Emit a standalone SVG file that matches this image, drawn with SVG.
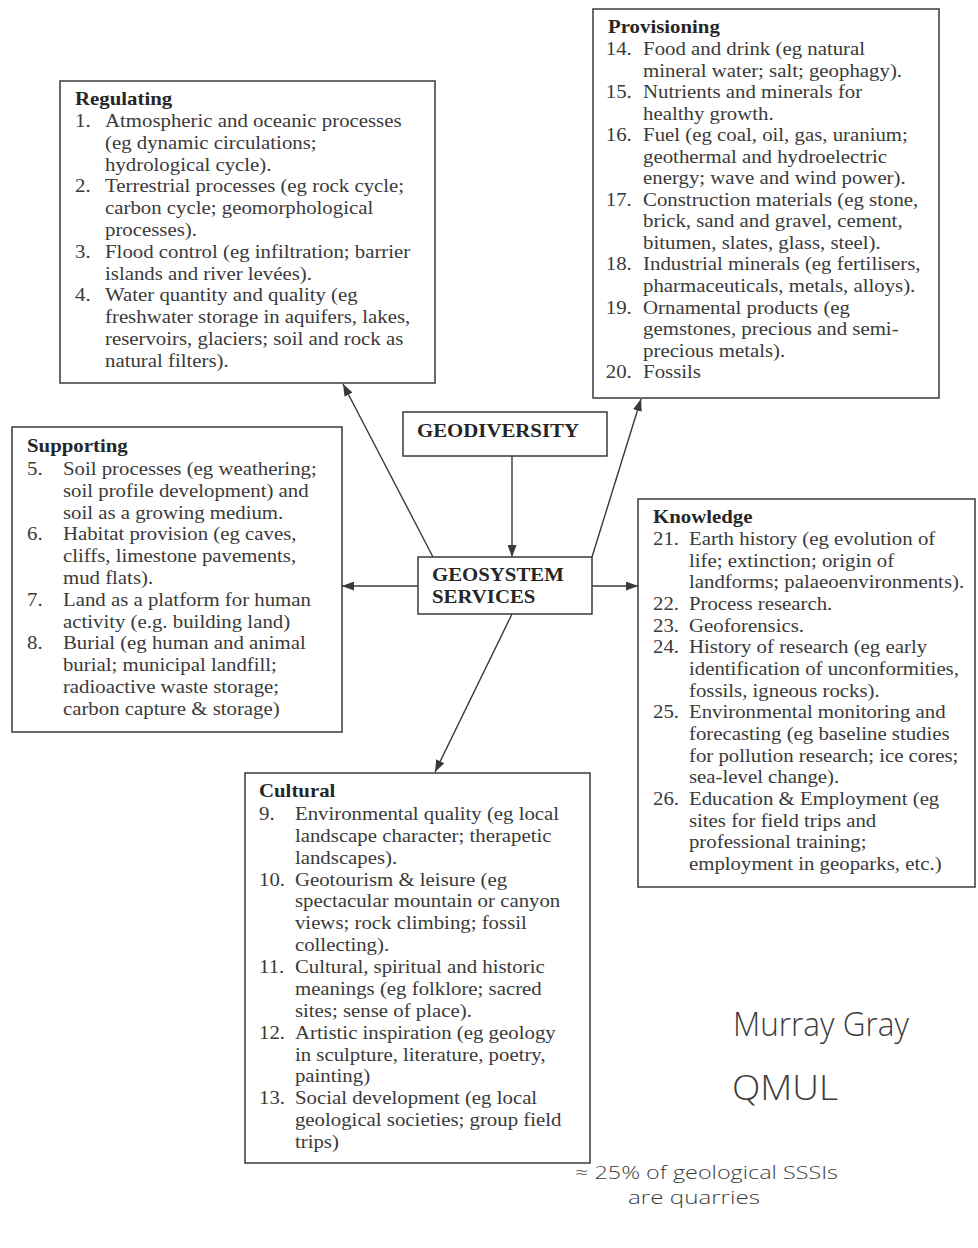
<svg xmlns="http://www.w3.org/2000/svg" width="978" height="1248" viewBox="0 0 978 1248">
<style>
.box{fill:none;stroke:#3a3a3a;stroke-width:1.5}
.t{font-family:"Liberation Serif","Times New Roman",serif;font-size:18.6px;fill:#3a3a3a}
.h{font-family:"Liberation Serif","Times New Roman",serif;font-size:18.6px;font-weight:bold;fill:#262626}
.c{fill:none;stroke:#3a3a3a;stroke-width:1.4}
.hw{font-family:"Open Sans","DejaVu Sans",sans-serif;font-weight:300;fill:#3c3c3c}
</style>
<defs>
<marker id="ah" viewBox="0 0 12 9" refX="12" refY="4.5" markerWidth="12" markerHeight="9" markerUnits="userSpaceOnUse" orient="auto">
<path d="M0,0 L12,4.5 L0,9 z" fill="#3a3a3a"/>
</marker>
</defs>
<rect width="978" height="1248" fill="#ffffff"/>

<g id="regulating">
<rect class="box" x="60" y="81" width="375" height="302"/>
<g transform="matrix(1.12,0,0,1,-9,0)">
<text class="h" x="75" y="105">Regulating</text>
<text class="t">
<tspan x="75" y="127">1.</tspan><tspan x="101.8" y="127">Atmospheric and oceanic processes</tspan>
<tspan x="101.8" y="148.8">(eg dynamic circulations;</tspan>
<tspan x="101.8" y="170.6">hydrological cycle).</tspan>
<tspan x="75" y="192.4">2.</tspan><tspan x="101.8" y="192.4">Terrestrial processes (eg rock cycle;</tspan>
<tspan x="101.8" y="214.2">carbon cycle; geomorphological</tspan>
<tspan x="101.8" y="236">processes).</tspan>
<tspan x="75" y="257.8">3.</tspan><tspan x="101.8" y="257.8">Flood control (eg infiltration; barrier</tspan>
<tspan x="101.8" y="279.6">islands and river levées).</tspan>
<tspan x="75" y="301.4">4.</tspan><tspan x="101.8" y="301.4">Water quantity and quality (eg</tspan>
<tspan x="101.8" y="323.2">freshwater storage in aquifers, lakes,</tspan>
<tspan x="101.8" y="345">reservoirs, glaciers; soil and rock as</tspan>
<tspan x="101.8" y="366.8">natural filters).</tspan>
</text>
</g>
</g>

<g id="provisioning">
<rect class="box" x="593" y="9" width="346" height="389"/>
<g transform="matrix(1.12,0,0,1,-72.96,0)">
<text class="h" x="608" y="33">Provisioning</text>
<text class="t">
<tspan x="606" y="55">14.</tspan><tspan x="639.3" y="55">Food and drink (eg natural</tspan>
<tspan x="639.3" y="76.6">mineral water; salt; geophagy).</tspan>
<tspan x="606" y="98.1">15.</tspan><tspan x="639.3" y="98.1">Nutrients and minerals for</tspan>
<tspan x="639.3" y="119.7">healthy growth.</tspan>
<tspan x="606" y="141.2">16.</tspan><tspan x="639.3" y="141.2">Fuel (eg coal, oil, gas, uranium;</tspan>
<tspan x="639.3" y="162.8">geothermal and hydroelectric</tspan>
<tspan x="639.3" y="184.3">energy; wave and wind power).</tspan>
<tspan x="606" y="205.9">17.</tspan><tspan x="639.3" y="205.9">Construction materials (eg stone,</tspan>
<tspan x="639.3" y="227.4">brick, sand and gravel, cement,</tspan>
<tspan x="639.3" y="249">bitumen, slates, glass, steel).</tspan>
<tspan x="606" y="270.5">18.</tspan><tspan x="639.3" y="270.5">Industrial minerals (eg fertilisers,</tspan>
<tspan x="639.3" y="292.1">pharmaceuticals, metals, alloys).</tspan>
<tspan x="606" y="313.6">19.</tspan><tspan x="639.3" y="313.6">Ornamental products (eg</tspan>
<tspan x="639.3" y="335.2">gemstones, precious and semi-</tspan>
<tspan x="639.3" y="356.7">precious metals).</tspan>
<tspan x="606" y="378.3">20.</tspan><tspan x="639.3" y="378.3">Fossils</tspan>
</text>
</g>
</g>

<g id="supporting">
<rect class="box" x="12" y="427" width="330" height="305"/>
<g transform="matrix(1.12,0,0,1,-3.24,0)">
<text class="h" x="27" y="452">Supporting</text>
<text class="t">
<tspan x="27" y="475">5.</tspan><tspan x="59.1" y="475">Soil processes (eg weathering;</tspan>
<tspan x="59.1" y="496.8">soil profile development) and</tspan>
<tspan x="59.1" y="518.6">soil as a growing medium.</tspan>
<tspan x="27" y="540.4">6.</tspan><tspan x="59.1" y="540.4">Habitat provision (eg caves,</tspan>
<tspan x="59.1" y="562.2">cliffs, limestone pavements,</tspan>
<tspan x="59.1" y="584">mud flats).</tspan>
<tspan x="27" y="605.8">7.</tspan><tspan x="59.1" y="605.8">Land as a platform for human</tspan>
<tspan x="59.1" y="627.6">activity (e.g. building land)</tspan>
<tspan x="27" y="649.4">8.</tspan><tspan x="59.1" y="649.4">Burial (eg human and animal</tspan>
<tspan x="59.1" y="671.2">burial; municipal landfill;</tspan>
<tspan x="59.1" y="693">radioactive waste storage;</tspan>
<tspan x="59.1" y="714.8">carbon capture &amp; storage)</tspan>
</text>
</g>
</g>

<g id="knowledge">
<rect class="box" x="638" y="499" width="337" height="388"/>
<g transform="matrix(1.12,0,0,1,-78.36,0)">
<text class="h" x="653" y="523">Knowledge</text>
<text class="t">
<tspan x="653" y="545">21.</tspan><tspan x="685.1" y="545">Earth history (eg evolution of</tspan>
<tspan x="685.1" y="566.7">life; extinction; origin of</tspan>
<tspan x="685.1" y="588.3">landforms; palaeoenvironments).</tspan>
<tspan x="653" y="610">22.</tspan><tspan x="685.1" y="610">Process research.</tspan>
<tspan x="653" y="631.7">23.</tspan><tspan x="685.1" y="631.7">Geoforensics.</tspan>
<tspan x="653" y="653.4">24.</tspan><tspan x="685.1" y="653.4">History of research (eg early</tspan>
<tspan x="685.1" y="675">identification of unconformities,</tspan>
<tspan x="685.1" y="696.7">fossils, igneous rocks).</tspan>
<tspan x="653" y="718.4">25.</tspan><tspan x="685.1" y="718.4">Environmental monitoring and</tspan>
<tspan x="685.1" y="740">forecasting (eg baseline studies</tspan>
<tspan x="685.1" y="761.7">for pollution research; ice cores;</tspan>
<tspan x="685.1" y="783.4">sea-level change).</tspan>
<tspan x="653" y="805">26.</tspan><tspan x="685.1" y="805">Education &amp; Employment (eg</tspan>
<tspan x="685.1" y="826.7">sites for field trips and</tspan>
<tspan x="685.1" y="848.4">professional training;</tspan>
<tspan x="685.1" y="870">employment in geoparks, etc.)</tspan>
</text>
</g>
</g>

<g id="cultural">
<rect class="box" x="245" y="773" width="345" height="390"/>
<g transform="matrix(1.12,0,0,1,-31.08,0)">
<text class="h" x="259" y="797">Cultural</text>
<text class="t">
<tspan x="259" y="820">9.</tspan><tspan x="291.1" y="820">Environmental quality (eg local</tspan>
<tspan x="291.1" y="841.9">landscape character; therapetic</tspan>
<tspan x="291.1" y="863.7">landscapes).</tspan>
<tspan x="259" y="885.6">10.</tspan><tspan x="291.1" y="885.6">Geotourism &amp; leisure (eg</tspan>
<tspan x="291.1" y="907.5">spectacular mountain or canyon</tspan>
<tspan x="291.1" y="929.4">views; rock climbing; fossil</tspan>
<tspan x="291.1" y="951.2">collecting).</tspan>
<tspan x="259" y="973.1">11.</tspan><tspan x="291.1" y="973.1">Cultural, spiritual and historic</tspan>
<tspan x="291.1" y="995">meanings (eg folklore; sacred</tspan>
<tspan x="291.1" y="1016.8">sites; sense of place).</tspan>
<tspan x="259" y="1038.7">12.</tspan><tspan x="291.1" y="1038.7">Artistic inspiration (eg geology</tspan>
<tspan x="291.1" y="1060.6">in sculpture, literature, poetry,</tspan>
<tspan x="291.1" y="1082.4">painting)</tspan>
<tspan x="259" y="1104.3">13.</tspan><tspan x="291.1" y="1104.3">Social development (eg local</tspan>
<tspan x="291.1" y="1126.2">geological societies; group field</tspan>
<tspan x="291.1" y="1148">trips)</tspan>
</text>
</g>
</g>

<g id="geodiversity">
<rect class="box" x="403" y="412" width="204" height="44"/>
<text class="h" x="417" y="437" transform="matrix(1.12,0,0,1,-50.04,0)">GEODIVERSITY</text>
</g>

<g id="geosystem-services">
<rect class="box" x="418" y="557" width="174" height="57"/>
<g transform="matrix(1.12,0,0,1,-51.84,0)">
<text class="h"><tspan x="432" y="581">GEOSYSTEM</tspan><tspan x="432" y="603">SERVICES</tspan></text>
</g>
</g>

<g id="connectors">
<line class="c" x1="512" y1="456" x2="512" y2="557" marker-end="url(#ah)"/>
<line class="c" x1="433" y1="557" x2="343" y2="384" marker-end="url(#ah)"/>
<line class="c" x1="592" y1="557" x2="641" y2="399" marker-end="url(#ah)"/>
<line class="c" x1="418" y1="586" x2="342" y2="586" marker-end="url(#ah)"/>
<line class="c" x1="592" y1="586" x2="638" y2="586" marker-end="url(#ah)"/>
<line class="c" x1="512" y1="614" x2="435" y2="772" marker-end="url(#ah)"/>
</g>

<g id="handwriting">
<text class="hw" x="733" y="1036" font-size="33" textLength="176" lengthAdjust="spacingAndGlyphs">Murray Gray</text>
<text class="hw" x="732" y="1100" font-size="34" textLength="106" lengthAdjust="spacingAndGlyphs">QMUL</text>
<text class="hw" x="575" y="1179" font-size="18" textLength="263" lengthAdjust="spacingAndGlyphs">≈ 25% of geological SSSIs</text>
<text class="hw" x="628" y="1204" font-size="18" textLength="132" lengthAdjust="spacingAndGlyphs">are quarries</text>
</g>
</svg>
